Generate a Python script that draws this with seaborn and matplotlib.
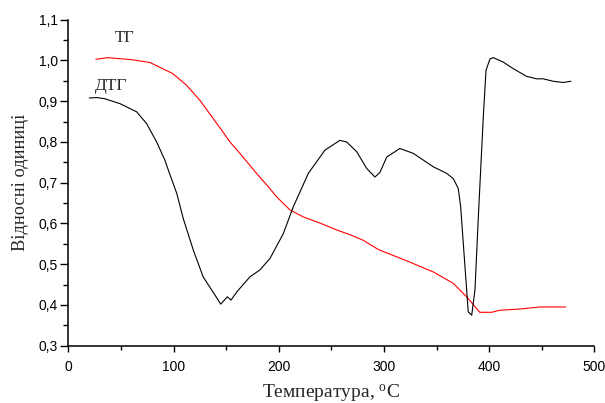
import matplotlib
matplotlib.use("Agg")
import matplotlib.pyplot as plt
from matplotlib.ticker import MultipleLocator, FixedLocator, FixedFormatter
import seaborn as sns
import pandas as pd

# TG curve (red)
tg_x = [26, 37.5, 60, 77.5, 99, 112, 125, 145.6, 153.5, 162, 171, 180.4, 190, 198, 210.6,
        223.2, 240, 255, 268, 280, 294.5, 320, 346.8, 365.8, 378.5, 391, 402.3, 410, 429, 448, 472.6]
tg_y = [1.003, 1.007, 1.002, 0.995, 0.968, 0.94, 0.902, 0.829, 0.80, 0.775, 0.747, 0.718, 0.69,
        0.665, 0.633, 0.616, 0.60, 0.584, 0.572, 0.559, 0.536, 0.510, 0.481, 0.453, 0.420, 0.382,
        0.382, 0.387, 0.390, 0.395, 0.395]

# DTG curve (black)
dtg_x = [19.8, 27, 34.7, 49, 64.8, 74.3, 83.8, 91.7, 94.9, 102.9, 109.1, 118.6, 128, 139.3,
         144.7, 151, 154.5, 160, 172.5, 182, 191.5, 204.2, 213.7, 228, 243.8, 258, 264.4, 274,
         283.5, 291.3, 296, 302.5, 315, 327.8, 346.8, 359.5, 365.8, 370.5, 372.8, 376.9, 380,
         383.3, 386.4, 389.6, 394.3, 396.9, 400.7, 403.8, 413.3, 422.8, 435.5, 445, 451.3,
         460.8, 470.3, 477.6]
dtg_y = [0.908, 0.909, 0.906, 0.894, 0.874, 0.845, 0.800, 0.755, 0.731, 0.674, 0.612,
         0.535, 0.469, 0.424, 0.402, 0.420, 0.412, 0.432, 0.469, 0.486, 0.514, 0.575, 0.641,
         0.723, 0.780, 0.804, 0.800, 0.776, 0.735, 0.714, 0.725, 0.763, 0.784, 0.772, 0.739,
         0.723, 0.710, 0.686, 0.641, 0.494, 0.383, 0.375, 0.437, 0.616, 0.861, 0.976, 1.004,
         1.007, 0.996, 0.980, 0.961, 0.955, 0.955, 0.949, 0.946, 0.949]

x_ticks = [0, 100, 200, 300, 400, 500]
x_tick_labels = ["0", "100", "200", "300", "400", "500"]
y_ticks = [0.3, 0.4, 0.5, 0.6, 0.7, 0.8, 0.9, 1.0, 1.1]
y_tick_labels = ["0,3", "0,4", "0,5", "0,6", "0,7", "0,8", "0,9", "1,0", "1,1"]

sns.set_style("ticks")
plt.rcParams["font.family"] = ["Liberation Sans", "DejaVu Sans"]
plt.rcParams["mathtext.fontset"] = "custom"
plt.rcParams["mathtext.rm"] = "Liberation Serif"
plt.rcParams["mathtext.it"] = "Liberation Serif"

df_tg = pd.DataFrame({"T": tg_x, "v": tg_y})
df_dtg = pd.DataFrame({"T": dtg_x, "v": dtg_y})

fig = plt.figure(figsize=(6.05, 4.03), dpi=100)
ax = fig.add_axes([0.1132, 0.1422, 0.8694, 0.8088])

sns.lineplot(data=df_tg, x="T", y="v", color="#ff0000", linewidth=0.8, ax=ax, sort=False)
sns.lineplot(data=df_dtg, x="T", y="v", color="black", linewidth=0.8, ax=ax, sort=False)

ax.set_xlim(0, 500)
ax.set_ylim(0.3, 1.1)
ax.xaxis.set_major_locator(FixedLocator(x_ticks))
ax.xaxis.set_major_formatter(FixedFormatter(x_tick_labels))
ax.yaxis.set_major_locator(FixedLocator(y_ticks))
ax.yaxis.set_major_formatter(FixedFormatter(y_tick_labels))
ax.xaxis.set_minor_locator(MultipleLocator(50))
ax.yaxis.set_minor_locator(MultipleLocator(0.05))
ax.tick_params(which="both", direction="out", width=1, colors="black", labelsize=10)
ax.tick_params(axis="x", which="major", length=4.5, pad=6)
ax.tick_params(axis="x", which="minor", length=2.7)
ax.tick_params(axis="y", which="major", length=6, pad=1.5)
ax.tick_params(axis="y", which="minor", length=3.5)
for s in ["top", "right"]:
    ax.spines[s].set_visible(False)
for s in ["left", "bottom"]:
    ax.spines[s].set_linewidth(1.1)
    ax.spines[s].set_color("black")

serif = ["Liberation Serif", "DejaVu Serif"]
ax.set_xlabel("Температура, $^{\\mathrm{o}}$C", fontsize=14, family=serif, labelpad=6)
ax.set_ylabel("Відносні одиниці", fontsize=13.2, family=serif, labelpad=7)

ax.text(53.7, 1.054, "ТГ", fontsize=12, family=serif, ha="center", va="center")
ax.text(41, 0.937, "ДТГ", fontsize=12.5, family=serif, ha="center", va="center")

fig.savefig("out.png", dpi=100)
